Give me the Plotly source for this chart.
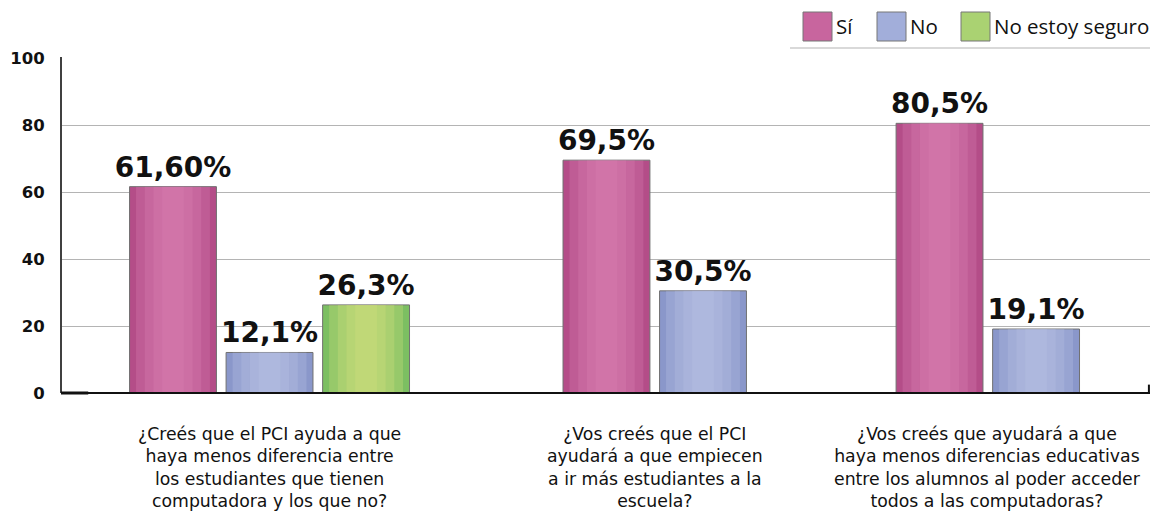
import plotly.graph_objects as go

# ---- data ----
categories = [
    "¿Creés que el PCI ayuda a que<br>haya menos diferencia entre<br>los estudiantes que tienen<br>computadora y los que no?",
    "¿Vos creés que el PCI<br>ayudará a que empiecen<br>a ir más estudiantes a la<br>escuela?",
    "¿Vos creés que ayudará a que<br>haya menos diferencias educativas<br>entre los alumnos al poder acceder<br>todos a las computadoras?",
]
series_names = ["Sí", "No", "No estoy seguro"]
si_values = [61.6, 69.5, 80.5]
no_values = [12.1, 30.5, 19.1]
ns_values = [26.3, None, None]
si_labels = ["61,60%", "69,5%", "80,5%"]
no_labels = ["12,1%", "30,5%", "19,1%"]
ns_labels = ["26,3%", "", ""]
y_ticks = [0, 20, 40, 60, 80, 100]

# ---- layout geometry (slot units) ----
group_centers = [2.16, 6.15, 9.60]
slot = 1.0
bar_w = 0.9
x_range = [0, 11.28]

dark = ["#B44D88", "#8A97CA", "#7CBF62"]
light = ["#DB80B2", "#B9C3E6", "#D6E27E"]
border = "#707070"

series_vals = [si_values, no_values, ns_values]
series_txt = [si_labels, no_labels, ns_labels]

fig = go.Figure()
for s, (name, vals, txt) in enumerate(zip(series_names, series_vals, series_txt)):
    xs, ys, ts = [], [], []
    for g, c in enumerate(group_centers):
        n = sum(1 for sv in series_vals if sv[g] is not None)
        if vals[g] is None:
            continue
        xs.append(c + (s - (n - 1) / 2) * slot)
        ys.append(vals[g])
        ts.append(txt[g])
    fig.add_trace(go.Bar(
        x=xs, y=ys, width=bar_w, name=name,
        marker=dict(color=dark[s], line=dict(color=border, width=1)),
        showlegend=False, hoverinfo="skip",
    ))
    # layered lighter bands for a soft gradient
    for k, f in enumerate([0.85, 0.65, 0.45, 0.25]):
        fig.add_trace(go.Bar(
            x=xs, y=[v - 0.15 for v in ys], base=[0.15] * len(ys), width=bar_w * f,
            marker=dict(color=light[s], opacity=0.3, line=dict(width=0)),
            showlegend=False, hoverinfo="skip",
        ))
    # labels
    fig.add_trace(go.Bar(
        x=xs, y=ys, width=bar_w, marker=dict(color="rgba(0,0,0,0)", line=dict(width=0)),
        text=ts, textposition="outside", cliponaxis=False, constraintext="none",
        textfont=dict(family="DejaVu Sans", size=28, color="#111111"),
        texttemplate="<b>%{text}</b>",
        showlegend=False, hoverinfo="skip",
    ))

# page body has an 8px default margin; size the figure so the plot lands where the reference has it
fig.update_layout(
    width=1153, height=507,
    margin=dict(l=53, r=11, t=50, b=122),
    plot_bgcolor="white", paper_bgcolor="white",
    barmode="overlay",
    xaxis=dict(
        range=x_range, tickvals=group_centers, ticktext=["", "", ""],
        showgrid=False, zeroline=False, showline=False, automargin=False,
    ),
    yaxis=dict(
        range=[0, 100], tickvals=y_ticks, ticktext=[f"<b>{v}</b>" for v in y_ticks],
        showgrid=True, gridcolor="#B4B4B4", gridwidth=1.2,
        zeroline=False, showline=False, automargin=False,
        ticks="outside", ticklen=12, tickcolor="rgba(0,0,0,0)",
        tickfont=dict(family="DejaVu Sans", size=16.5, color="#111111"),
    ),
    font=dict(family="Open Sans"),
)

# category labels below the axis
for c, label in zip(group_centers, categories):
    fig.add_annotation(x=c, xref="x", y=0, yref="paper", yshift=-29,
                       text=label, showarrow=False, xanchor="center", yanchor="top",
                       align="center",
                       font=dict(family="DejaVu Sans", size=17.3, color="#111111"))

# axis lines
fig.add_shape(type="line", xref="paper", yref="paper", x0=0, x1=0, y0=0, y1=1.003,
              line=dict(color="#404040", width=2))
fig.add_shape(type="line", xref="paper", yref="paper", x0=0, x1=1, y0=0, y1=0,
              line=dict(color="#111111", width=2))
fig.add_shape(type="line", xref="paper", yref="paper", x0=0, x1=0.025, y0=0, y1=0,
              line=dict(color="#111111", width=3))
fig.add_shape(type="line", xref="paper", yref="paper", x0=0.999, x1=0.999, y0=0, y1=0.025,
              line=dict(color="#111111", width=2))

# manual legend (screen pixel geometry -> paper)
PW, PH, L, B = 1089, 335, 61, 393
def px(x):
    return (x - L) / PW
def py(y):
    return (B - y) / PH

legend_boxes = [(803, 832), (877, 906), (961, 990)]
mid = ["#C8659E", "#A2AEDA", "#AAD272"]
for s, (x0, x1) in enumerate(legend_boxes):
    fig.add_shape(type="rect", xref="paper", yref="paper",
                  x0=px(x0), x1=px(x1), y0=py(41), y1=py(12),
                  fillcolor=mid[s], line=dict(color="#777777", width=1))
    fig.add_annotation(xref="paper", yref="paper", x=px(x1 + 2), y=py(26.5),
                       text=series_names[s], showarrow=False, xanchor="left", yanchor="middle",
                       font=dict(family="Open Sans", size=20.5, color="#111111"))
fig.add_shape(type="line", xref="paper", yref="paper", x0=px(790), x1=px(1150), y0=py(48), y1=py(48),
              line=dict(color="#B4B4B4", width=1.2))

fig.write_html("out.html")
